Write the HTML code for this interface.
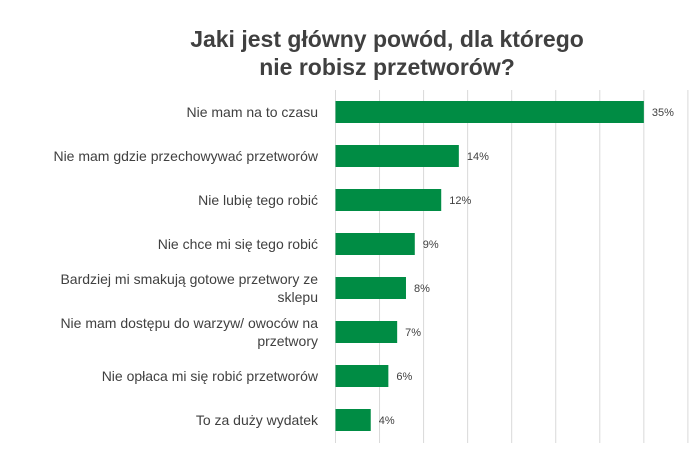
<!DOCTYPE html>
<html><head><meta charset="utf-8"><style>
body{margin:0;background:#fff;width:689px;height:468px;overflow:hidden;font-family:"Liberation Sans",Arial,sans-serif}
</style></head><body>
<svg id="chart" width="689" height="468" xmlns="http://www.w3.org/2000/svg">
<text x="387" y="47" text-anchor="middle" font-size="23" font-weight="bold" fill="#404040">Jaki jest główny powód, dla którego</text>
<text x="387" y="75" text-anchor="middle" font-size="23" font-weight="bold" fill="#404040">nie robisz przetworów?</text>
<g id="grid"></g><g id="bars"></g><g id="labels"></g>
</svg>
<script>
const categories=[["Nie mam na to czasu"],["Nie mam gdzie przechowywać przetworów"],["Nie lubię tego robić"],["Nie chce mi się tego robić"],["Bardziej mi smakują gotowe przetwory ze","sklepu"],["Nie mam dostępu do warzyw/ owoców na","przetwory"],["Nie opłaca mi się robić przetworów"],["To za duży wydatek"]];
const values=[35,14,12,9,8,7,6,4];
const valueLabels=["35%","14%","12%","9%","8%","7%","6%","4%"];
const gridTicks=[0,5,10,15,20,25,30,35,40];
const NS="http://www.w3.org/2000/svg";
const x0=335.5,pxPer=8.81,plotTop=90,step=44,barH=22;
const xs=v=>x0+v*pxPer;
const yc=i=>plotTop+step/2+i*step;
const g=document.getElementById('grid'),b=document.getElementById('bars'),l=document.getElementById('labels');
function mk(tag,attrs,parent){const e=document.createElementNS(NS,tag);for(const k in attrs)e.setAttribute(k,attrs[k]);parent.appendChild(e);return e;}
gridTicks.forEach(t=>{
 const ln=mk('line',{x1:xs(t),x2:xs(t),y1:plotTop,y2:plotTop+step*values.length+1,stroke:'#d9d9d9','stroke-width':1},g);
 
 
});
values.forEach((v,i)=>{
 const r=mk('rect',{x:x0,y:yc(i)-barH/2,width:xs(v)-x0,height:barH,fill:'#008c44'},b);
 
 
 const t=mk('text',{x:xs(v)+8,y:yc(i)+4,'font-size':11,fill:'#404040'},l);
 t.textContent=valueLabels[i];
 
 
 const lines=categories[i];
 lines.forEach((s,j)=>{
  const c=mk('text',{x:318,y:yc(i)+5+(j-(lines.length-1)/2)*18,'text-anchor':'end','font-size':14,fill:'#404040'},l);
  c.textContent=s;
  
  
 });
});
</script>
</body></html>
